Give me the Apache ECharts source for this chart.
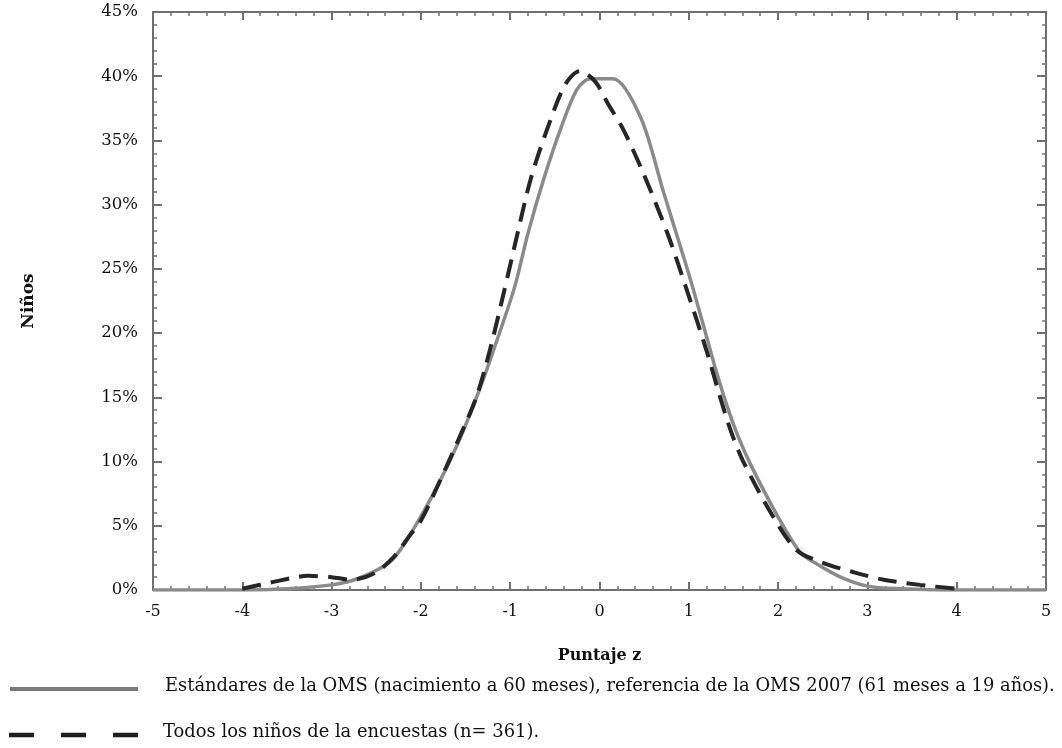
<!DOCTYPE html>
<html>
<head>
<meta charset="utf-8">
<script src="https://cdn.jsdelivr.net/npm/echarts@6/dist/echarts.min.js"></script>
<style>
html,body{margin:0;padding:0;background:#fff;}
#c{width:1062px;height:748px;}
</style>
</head>
<body>
<div id="c"></div>
<script>
// ---- data ----
const xTicks = [-5, -4, -3, -2, -1, 0, 1, 2, 3, 4, 5];
const yTicks = [0, 5, 10, 15, 20, 25, 30, 35, 40, 45];
const xAxisTitle = "Puntaje z";
const yAxisTitle = "Niños";
const seriesNames = [
  "Estándares de la OMS (nacimiento a 60 meses), referencia de la OMS 2007 (61 meses a 19 años).",
  "Todos los niños de la encuestas (n= 361)."
];
// WHO standard (solid grey): [z, %]
const omsZ = [-5, -4, -3.5, -3.0, -2.7, -2.33, -2.07, -1.8, -1.58, -1.36, -1.17, -0.95, -0.8, -0.62, -0.43, -0.25, -0.1, 0.15, 0.46, 0.72, 1.0, 1.2, 1.3, 1.43, 1.55, 1.69, 1.99, 2.25, 2.44, 2.7, 3.0, 3.37, 4, 5];
const omsV = [0, 0, 0.1, 0.4, 0.9, 2.3, 4.9, 8.3, 11.5, 15.3, 19.0, 23.6, 27.8, 32.1, 36.0, 39.0, 39.8, 39.8, 36.8, 30.9, 24.6, 19.7, 17.2, 14.3, 12.0, 9.8, 5.8, 2.9, 2.0, 1.0, 0.3, 0.1, 0, 0];
// Survey children (dashed black): [z, %]
const encZ = [-4.0, -3.67, -3.26, -3.0, -2.78, -2.52, -2.30, -2.14, -2.0, -1.8, -1.58, -1.38, -1.23, -1.07, -0.91, -0.77, -0.58, -0.38, -0.22, -0.05, 0.1, 0.27, 0.5, 0.77, 0.99, 1.2, 1.36, 1.48, 1.61, 1.92, 2.21, 2.51, 2.84, 3.18, 3.59, 4.0];
const encV = [0.1, 0.6, 1.1, 1.0, 0.8, 1.3, 2.6, 4.1, 5.4, 8.3, 11.7, 15.0, 18.6, 23.2, 28.0, 32.0, 36.0, 39.4, 40.4, 39.6, 37.8, 35.8, 32.3, 27.6, 23.1, 18.6, 14.8, 12.2, 10.0, 6.0, 3.1, 2.1, 1.4, 0.8, 0.4, 0.1];

const serif = "'DejaVu Serif', 'Liberation Serif', serif";
const axisColor = '#707070';

const chart = echarts.init(document.getElementById('c'), null, {renderer: 'canvas'});

function xAxisCfg(pos, showLabel) {
  return {
    type: 'value', position: pos, min: xTicks[0], max: xTicks[xTicks.length - 1], interval: 1,
    axisLine: {show: true, onZero: false, lineStyle: {color: axisColor, width: 2}},
    axisTick: {show: true, inside: true, length: 8, lineStyle: {color: axisColor, width: 2}},
    minorTick: {show: true, splitNumber: 5, length: 4, lineStyle: {color: axisColor, width: 1.5}},
    splitLine: {show: false},
    axisLabel: {show: showLabel, color: '#111', fontFamily: serif, fontSize: 16, margin: 14},
    name: showLabel ? xAxisTitle : '', nameLocation: 'middle', nameGap: 58,
    nameTextStyle: {fontFamily: serif, fontWeight: 'bold', fontSize: 16, color: '#111'}
  };
}
function yAxisCfg(pos, showLabel) {
  return {
    type: 'value', position: pos, min: yTicks[0], max: yTicks[yTicks.length - 1], interval: 5,
    axisLine: {show: true, onZero: false, lineStyle: {color: axisColor, width: 2}},
    axisTick: {show: true, inside: true, length: 9, lineStyle: {color: axisColor, width: 2}},
    minorTick: {show: true, splitNumber: 5, length: 4, lineStyle: {color: axisColor, width: 1.5}},
    splitLine: {show: false},
    axisLabel: {show: showLabel, color: '#111', fontFamily: serif, fontSize: 16.5, margin: 15, formatter: '{value}%'},
    name: showLabel ? yAxisTitle : '', nameLocation: 'middle', nameGap: 116, nameRotate: 90,
    nameTextStyle: {fontFamily: serif, fontWeight: 'bold', fontSize: 17, color: '#111'}
  };
}

const option = {
  backgroundColor: '#fff',
  animation: false,
  grid: {left: 153, right: 16, top: 12, bottom: 158, containLabel: false},
  xAxis: [xAxisCfg('bottom', true), xAxisCfg('top', false)],
  yAxis: [yAxisCfg('left', true), yAxisCfg('right', false)],
  series: [
    {
      name: seriesNames[0], type: 'line', xAxisIndex: 0, yAxisIndex: 0,
      data: omsZ.map((z, i) => [z, omsV[i]]),
      smooth: 0.3, showSymbol: false,
      lineStyle: {color: '#8a8a8a', width: 3.5}
    },
    {
      name: seriesNames[1], type: 'line', xAxisIndex: 0, yAxisIndex: 0,
      data: encZ.map((z, i) => [z, encV[i]]),
      smooth: 0.3, showSymbol: false,
      lineStyle: {color: '#262626', width: 4, type: [19, 10]}
    }
  ],
  graphic: [
    {type: 'line', shape: {x1: 10, y1: 689, x2: 138, y2: 689}, style: {stroke: '#7a7a7a', lineWidth: 4}},
    {type: 'text', left: 165, top: 677, style: {text: seriesNames[0], font: "17.9px 'DejaVu Serif', serif", fill: '#111'}},
    {type: 'line', shape: {x1: 9, y1: 735, x2: 138, y2: 735}, style: {stroke: '#1e1e1e', lineWidth: 4.5, lineDash: [25, 27]}},
    {type: 'text', left: 163, top: 723, style: {text: seriesNames[1], font: "17.9px 'DejaVu Serif', serif", fill: '#111'}}
  ]
};
chart.setOption(option);
</script>
</body>
</html>
